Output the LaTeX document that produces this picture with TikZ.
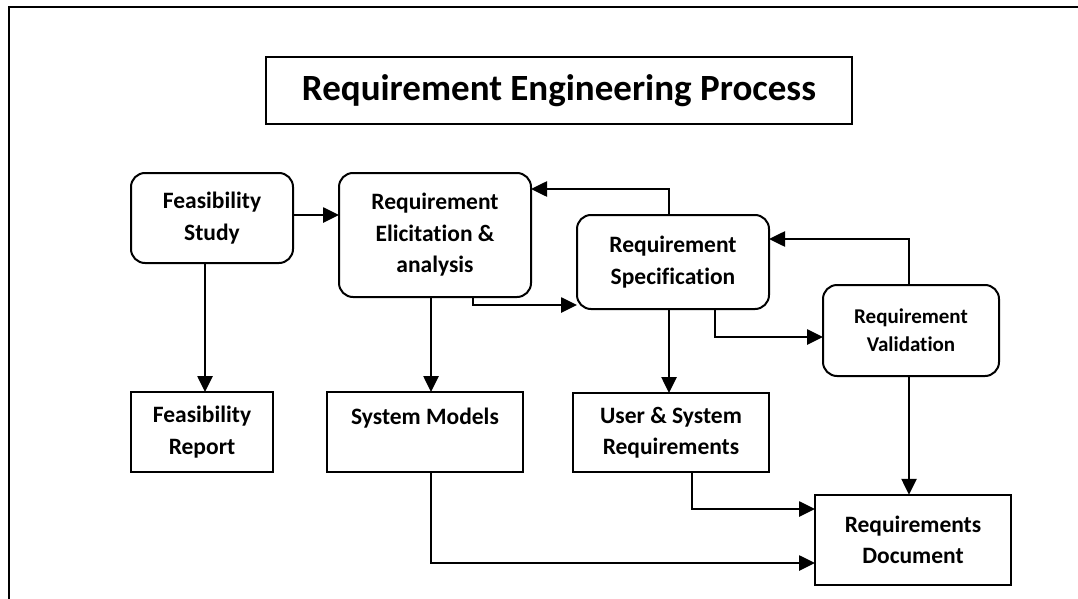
\documentclass[tikz,border=0pt]{standalone}
\usepackage{fontspec}
\setmainfont{Carlito}[Ligatures={NoCommon}]
\usetikzlibrary{arrows.meta}
\begin{document}
\begin{tikzpicture}[x=1pt,y=-1pt,
  box/.style={draw, line width=2pt, inner sep=0pt, outer sep=0pt, align=center,
    font=\fontsize{23.5}{31.5}\selectfont\bfseries},
  rbox/.style={box, rounded corners=14pt},
  arr/.style={line width=2.6pt, -{Triangle[length=16pt,width=15pt]}},
  frame/.style={line width=2.8pt}]
\useasboundingbox (0,0) rectangle (1078,599);
\draw[frame] (9,599) -- (9,7) -- (1078,7);

\node[box, minimum width=586pt, minimum height=67pt,
  font=\fontsize{37}{44}\selectfont\bfseries] (title) at (559,91) {Requirement Engineering Process};

\node[rbox, minimum width=162pt, minimum height=90pt] (fs) at (212,218) {Feasibility\\Study};
\node[rbox, minimum width=192pt, minimum height=124pt] (ere) at (435,235) {Requirement\\Elicitation \&\\analysis};
\node[rbox, minimum width=192pt, minimum height=94pt] (rs) at (673,262) {Requirement\\Specification};
\node[rbox, minimum width=176pt, minimum height=91pt,
  font=\fontsize{21}{27.7}\selectfont\bfseries] (rv) at (911,330.5) {Requirement\\Validation};

\node[box, minimum width=142pt, minimum height=80pt] (fr) at (202,432) {Feasibility\\Report};
\node[box, minimum width=196pt, minimum height=80pt] (sm) at (425,432) {System Models\\\mbox{}};
\node[box, minimum width=196pt, minimum height=79pt] (usr) at (671,432.5) {User \& System\\Requirements};
\node[box, minimum width=196pt, minimum height=90.5pt] (rd) at (913,540) {Requirements\\Document};

\draw[arr] (fs.east |- 0,215) -- (ere.west |- 0,215);
\draw[arr] (205,0 |- fs.south) -- (205,0 |- fr.north);
\draw[arr] (431,0 |- ere.south) -- (431,0 |- sm.north);
\draw[arr] (473,0 |- ere.south) |- (rs.west |- 0,305);
\draw[arr] (669,0 |- rs.north) |- (ere.east |- 0,189);
\draw[arr] (669,0 |- rs.south) -- (669,0 |- usr.north);
\draw[arr] (715,0 |- rs.south) |- (rv.west |- 0,337);
\draw[arr] (909,0 |- rv.north) |- (rs.east |- 0,239);
\draw[arr] (909,0 |- rv.south) -- (909,0 |- rd.north);
\draw[arr] (692,0 |- usr.south) |- (rd.west |- 0,509);
\draw[arr] (431,0 |- sm.south) |- (rd.west |- 0,563);
\end{tikzpicture}
\end{document}
